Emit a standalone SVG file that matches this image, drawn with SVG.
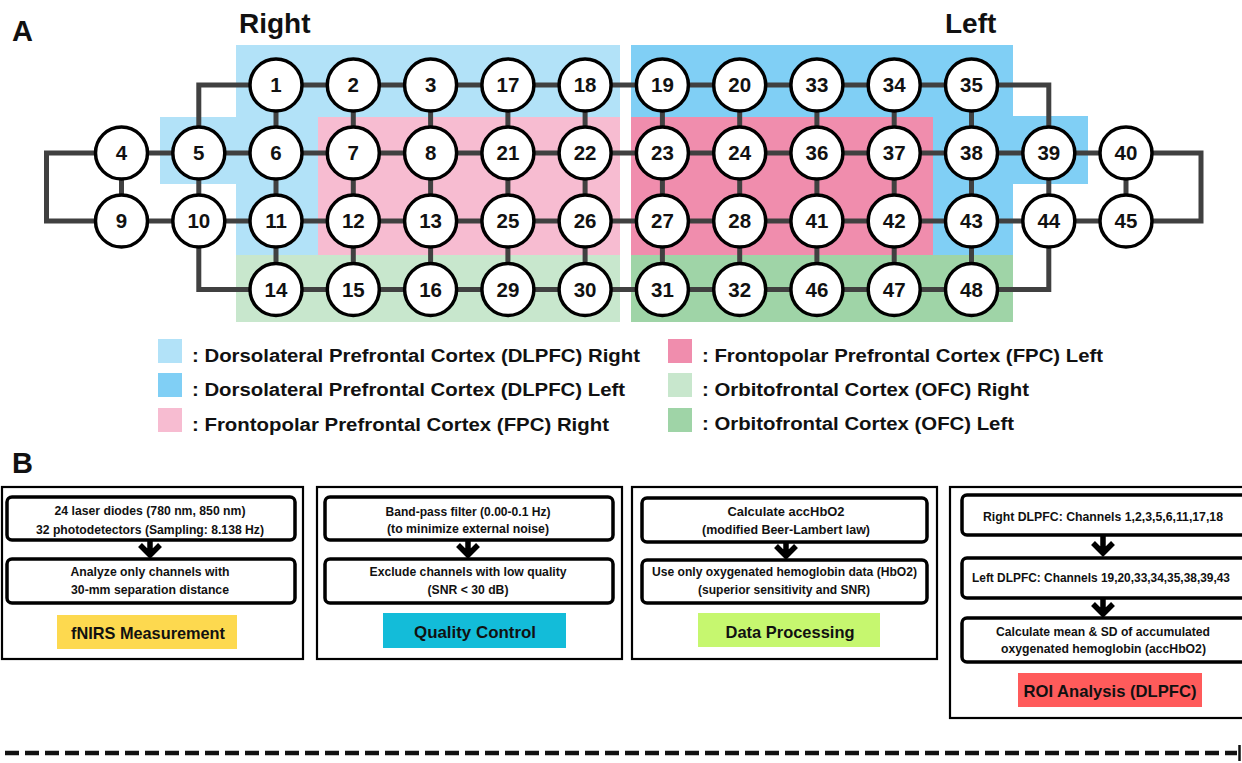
<svg xmlns="http://www.w3.org/2000/svg" width="1242" height="763" viewBox="0 0 1242 763">
<style>
.bg{fill:#ffffff}
.lb{fill:#b2e2f8}.db{fill:#80cff5}.lp{fill:#f7bcd1}.dp{fill:#f08dad}.lg{fill:#c8e7cd}.dg{fill:#9fd4a7}
.con{fill:none;stroke:#404040;stroke-width:5;stroke-linejoin:miter}
.nd circle{fill:#fff;stroke:#000;stroke-width:3.5}
.nd text{font-family:"Liberation Sans",Arial,sans-serif;font-weight:bold;font-size:20.5px;text-anchor:middle;fill:#111}
.ttl{font-family:"Liberation Sans",Arial,sans-serif;font-weight:bold;fill:#111}
.leg{font-family:"Liberation Sans",Arial,sans-serif;font-weight:bold;font-size:18px;fill:#111}
.outer{fill:#fff;stroke:#000;stroke-width:2.2}
.inner{fill:#fff;stroke:#000;stroke-width:3.5}
.t{font-family:"Liberation Sans",Arial,sans-serif;font-weight:bold;font-size:12.8px;text-anchor:middle;fill:#111}
.lab{font-family:"Liberation Sans",Arial,sans-serif;font-weight:bold;font-size:17px;text-anchor:middle;fill:#111}
.arr{fill:none;stroke:#000;stroke-width:5.5}
</style>
<rect class="bg" x="0" y="0" width="1242" height="763"/>

<g id="regions">
<polygon class="lb" points="236,45 620,45 620,117 318,117 318,255 236,255 236,184 160,184 160,117 236,117"/>
<rect class="lp" x="318" y="117" width="302" height="138"/>
<rect class="lg" x="236" y="255" width="384" height="67"/>
<polygon class="db" points="631,45 1013,45 1013,116 1088,116 1088,184 1013,184 1013,255 933,255 933,117 631,117"/>
<rect class="dp" x="631" y="117" width="302" height="138"/>
<rect class="dg" x="631" y="255" width="382" height="67"/>
</g>

<text class="ttl" x="12" y="41" font-size="29">A</text>
<text class="ttl" x="239" y="33" font-size="28">Right</text>
<text class="ttl" x="945" y="33" font-size="28">Left</text>

<g id="connectors">
<path class="con" d="M198.8,153 V85 H1048.8 V153"/>
<path class="con" d="M121.5,153 H46.5 V221 H121.5"/>
<path class="con" d="M1126,153 H1201 V221 H1126"/>
<path class="con" d="M121.5,153 H1126"/>
<path class="con" d="M121.5,221 H1126"/>
<path class="con" d="M198.8,221 V289.5 H1048.8 V221"/>
<path class="con" d="M121.5,153 V221 M198.8,153 V221 M1048.8,153 V221 M1126,153 V221"/>
<path class="con" d="M276,85 V289.5 M353.3,85 V289.5 M430.6,85 V289.5 M507.9,85 V289.5 M585.1,85 V289.5 M662.4,85 V289.5 M739.7,85 V289.5 M816.9,85 V289.5 M894.2,85 V289.5 M971.5,85 V289.5"/>
</g>

<g id="nodes">
<g id="n1" class="nd"><circle cx="276" cy="85" r="26"/><text x="276" y="92">1</text></g>
<g id="n2" class="nd"><circle cx="353.3" cy="85" r="26"/><text x="353.3" y="92">2</text></g>
<g id="n3" class="nd"><circle cx="430.6" cy="85" r="26"/><text x="430.6" y="92">3</text></g>
<g id="n17" class="nd"><circle cx="507.9" cy="85" r="26"/><text x="507.9" y="92">17</text></g>
<g id="n18" class="nd"><circle cx="585.1" cy="85" r="26"/><text x="585.1" y="92">18</text></g>
<g id="n19" class="nd"><circle cx="662.4" cy="85" r="26"/><text x="662.4" y="92">19</text></g>
<g id="n20" class="nd"><circle cx="739.7" cy="85" r="26"/><text x="739.7" y="92">20</text></g>
<g id="n33" class="nd"><circle cx="816.9" cy="85" r="26"/><text x="816.9" y="92">33</text></g>
<g id="n34" class="nd"><circle cx="894.2" cy="85" r="26"/><text x="894.2" y="92">34</text></g>
<g id="n35" class="nd"><circle cx="971.5" cy="85" r="26"/><text x="971.5" y="92">35</text></g>

<g id="n4" class="nd"><circle cx="121.5" cy="153" r="26"/><text x="121.5" y="160">4</text></g>
<g id="n5" class="nd"><circle cx="198.8" cy="153" r="26"/><text x="198.8" y="160">5</text></g>
<g id="n6" class="nd"><circle cx="276" cy="153" r="26"/><text x="276" y="160">6</text></g>
<g id="n7" class="nd"><circle cx="353.3" cy="153" r="26"/><text x="353.3" y="160">7</text></g>
<g id="n8" class="nd"><circle cx="430.6" cy="153" r="26"/><text x="430.6" y="160">8</text></g>
<g id="n21" class="nd"><circle cx="507.9" cy="153" r="26"/><text x="507.9" y="160">21</text></g>
<g id="n22" class="nd"><circle cx="585.1" cy="153" r="26"/><text x="585.1" y="160">22</text></g>
<g id="n23" class="nd"><circle cx="662.4" cy="153" r="26"/><text x="662.4" y="160">23</text></g>
<g id="n24" class="nd"><circle cx="739.7" cy="153" r="26"/><text x="739.7" y="160">24</text></g>
<g id="n36" class="nd"><circle cx="816.9" cy="153" r="26"/><text x="816.9" y="160">36</text></g>
<g id="n37" class="nd"><circle cx="894.2" cy="153" r="26"/><text x="894.2" y="160">37</text></g>
<g id="n38" class="nd"><circle cx="971.5" cy="153" r="26"/><text x="971.5" y="160">38</text></g>
<g id="n39" class="nd"><circle cx="1048.8" cy="153" r="26"/><text x="1048.8" y="160">39</text></g>
<g id="n40" class="nd"><circle cx="1126" cy="153" r="26"/><text x="1126" y="160">40</text></g>

<g id="n9" class="nd"><circle cx="121.5" cy="221" r="26"/><text x="121.5" y="228">9</text></g>
<g id="n10" class="nd"><circle cx="198.8" cy="221" r="26"/><text x="198.8" y="228">10</text></g>
<g id="n11" class="nd"><circle cx="276" cy="221" r="26"/><text x="276" y="228">11</text></g>
<g id="n12" class="nd"><circle cx="353.3" cy="221" r="26"/><text x="353.3" y="228">12</text></g>
<g id="n13" class="nd"><circle cx="430.6" cy="221" r="26"/><text x="430.6" y="228">13</text></g>
<g id="n25" class="nd"><circle cx="507.9" cy="221" r="26"/><text x="507.9" y="228">25</text></g>
<g id="n26" class="nd"><circle cx="585.1" cy="221" r="26"/><text x="585.1" y="228">26</text></g>
<g id="n27" class="nd"><circle cx="662.4" cy="221" r="26"/><text x="662.4" y="228">27</text></g>
<g id="n28" class="nd"><circle cx="739.7" cy="221" r="26"/><text x="739.7" y="228">28</text></g>
<g id="n41" class="nd"><circle cx="816.9" cy="221" r="26"/><text x="816.9" y="228">41</text></g>
<g id="n42" class="nd"><circle cx="894.2" cy="221" r="26"/><text x="894.2" y="228">42</text></g>
<g id="n43" class="nd"><circle cx="971.5" cy="221" r="26"/><text x="971.5" y="228">43</text></g>
<g id="n44" class="nd"><circle cx="1048.8" cy="221" r="26"/><text x="1048.8" y="228">44</text></g>
<g id="n45" class="nd"><circle cx="1126" cy="221" r="26"/><text x="1126" y="228">45</text></g>

<g id="n14" class="nd"><circle cx="276" cy="289.5" r="26"/><text x="276" y="296.5">14</text></g>
<g id="n15" class="nd"><circle cx="353.3" cy="289.5" r="26"/><text x="353.3" y="296.5">15</text></g>
<g id="n16" class="nd"><circle cx="430.6" cy="289.5" r="26"/><text x="430.6" y="296.5">16</text></g>
<g id="n29" class="nd"><circle cx="507.9" cy="289.5" r="26"/><text x="507.9" y="296.5">29</text></g>
<g id="n30" class="nd"><circle cx="585.1" cy="289.5" r="26"/><text x="585.1" y="296.5">30</text></g>
<g id="n31" class="nd"><circle cx="662.4" cy="289.5" r="26"/><text x="662.4" y="296.5">31</text></g>
<g id="n32" class="nd"><circle cx="739.7" cy="289.5" r="26"/><text x="739.7" y="296.5">32</text></g>
<g id="n46" class="nd"><circle cx="816.9" cy="289.5" r="26"/><text x="816.9" y="296.5">46</text></g>
<g id="n47" class="nd"><circle cx="894.2" cy="289.5" r="26"/><text x="894.2" y="296.5">47</text></g>
<g id="n48" class="nd"><circle cx="971.5" cy="289.5" r="26"/><text x="971.5" y="296.5">48</text></g>
</g>

<g id="legend">
<rect class="lb" x="158" y="339" width="24" height="24"/>
<text class="leg" x="192" y="362" textLength="448" lengthAdjust="spacingAndGlyphs">: Dorsolateral Prefrontal Cortex (DLPFC) Right</text>
<rect class="db" x="158" y="373" width="24" height="24"/>
<text class="leg" x="192" y="396" textLength="433" lengthAdjust="spacingAndGlyphs">: Dorsolateral Prefrontal Cortex (DLPFC) Left</text>
<rect class="lp" x="158" y="408" width="24" height="24"/>
<text class="leg" x="192" y="431" textLength="417" lengthAdjust="spacingAndGlyphs">: Frontopolar Prefrontal Cortex (FPC) Right</text>
<rect class="dp" x="668" y="339" width="24" height="24"/>
<text class="leg" x="702" y="362" textLength="401" lengthAdjust="spacingAndGlyphs">: Frontopolar Prefrontal Cortex (FPC) Left</text>
<rect class="lg" x="668" y="373" width="24" height="24"/>
<text class="leg" x="702" y="396" textLength="327" lengthAdjust="spacingAndGlyphs">: Orbitofrontal Cortex (OFC) Right</text>
<rect class="dg" x="668" y="408" width="24" height="24"/>
<text class="leg" x="702" y="430" textLength="312" lengthAdjust="spacingAndGlyphs">: Orbitofrontal Cortex (OFC) Left</text>
</g>

<text class="ttl" x="12" y="473" font-size="29">B</text>

<g id="panel1">
<rect class="outer" x="2" y="487" width="301" height="172"/>
<rect class="inner" x="7" y="497" width="288" height="43" rx="5"/>
<text class="t" x="150" y="515" textLength="191" lengthAdjust="spacingAndGlyphs">24 laser diodes (780 nm, 850 nm)</text>
<text class="t" x="150" y="534" textLength="228" lengthAdjust="spacingAndGlyphs">32 photodetectors (Sampling: 8.138 Hz)</text>
<path class="arr" d="M150,540 V555 M140,545 L150,555 L160,545"/>
<rect class="inner" x="7" y="559" width="288" height="44" rx="5"/>
<text class="t" x="150" y="576" textLength="159" lengthAdjust="spacingAndGlyphs">Analyze only channels with</text>
<text class="t" x="150" y="594" textLength="158" lengthAdjust="spacingAndGlyphs">30-mm separation distance</text>
<rect x="57" y="615" width="180" height="34" fill="#fdd94f"/>
<text class="lab" x="148" y="639" textLength="154" lengthAdjust="spacingAndGlyphs">fNIRS Measurement</text>
</g>

<g id="panel2">
<rect class="outer" x="317" y="487" width="305" height="172"/>
<rect class="inner" x="325" y="497" width="288" height="43" rx="5"/>
<text class="t" x="468" y="516" textLength="165" lengthAdjust="spacingAndGlyphs">Band-pass filter (0.00-0.1 Hz)</text>
<text class="t" x="468" y="533" textLength="162" lengthAdjust="spacingAndGlyphs">(to minimize external noise)</text>
<path class="arr" d="M468,540 V555 M458,545 L468,555 L478,545"/>
<rect class="inner" x="325" y="559" width="288" height="44" rx="5"/>
<text class="t" x="468" y="576" textLength="197" lengthAdjust="spacingAndGlyphs">Exclude channels with low quality</text>
<text class="t" x="468" y="594" textLength="81" lengthAdjust="spacingAndGlyphs">(SNR &lt; 30 dB)</text>
<rect x="383" y="613" width="183" height="35" fill="#13bcd9"/>
<text class="lab" x="475" y="638" textLength="122" lengthAdjust="spacingAndGlyphs">Quality Control</text>
</g>

<g id="panel3">
<rect class="outer" x="632" y="487" width="305" height="172"/>
<rect class="inner" x="642" y="498" width="285" height="44" rx="5"/>
<text class="t" x="786" y="516" textLength="117" lengthAdjust="spacingAndGlyphs">Calculate accHbO2</text>
<text class="t" x="786" y="534" textLength="168" lengthAdjust="spacingAndGlyphs">(modified Beer-Lambert law)</text>
<path class="arr" d="M786,542 V556 M776,546 L786,556 L796,546"/>
<rect class="inner" x="642" y="560" width="285" height="43" rx="5"/>
<text class="t" x="784.5" y="576" textLength="265" lengthAdjust="spacingAndGlyphs">Use only oxygenated hemoglobin data (HbO2)</text>
<text class="t" x="784" y="594" textLength="172" lengthAdjust="spacingAndGlyphs">(superior sensitivity and SNR)</text>
<rect x="698" y="613" width="182" height="34" fill="#c6f76f"/>
<text class="lab" x="790" y="638" textLength="129" lengthAdjust="spacingAndGlyphs">Data Processing</text>
</g>

<g id="panel4">
<rect class="outer" x="950" y="487" width="300" height="231"/>
<rect class="inner" x="962" y="495" width="290" height="40" rx="5"/>
<text class="t" x="1103" y="521" textLength="240" lengthAdjust="spacingAndGlyphs">Right DLPFC: Channels 1,2,3,5,6,11,17,18</text>
<path class="arr" d="M1103,535 V553 M1093,543 L1103,553 L1113,543"/>
<rect class="inner" x="962" y="558" width="290" height="40" rx="5"/>
<text class="t" x="1101" y="582" textLength="258" lengthAdjust="spacingAndGlyphs">Left DLPFC: Channels 19,20,33,34,35,38,39,43</text>
<path class="arr" d="M1103,598 V614 M1093,604 L1103,614 L1113,604"/>
<rect class="inner" x="962" y="618" width="290" height="44" rx="5"/>
<text class="t" x="1103" y="636" textLength="214" lengthAdjust="spacingAndGlyphs">Calculate mean &amp; SD of accumulated</text>
<text class="t" x="1103.5" y="653" textLength="205" lengthAdjust="spacingAndGlyphs">oxygenated hemoglobin (accHbO2)</text>
<rect x="1018" y="673" width="184" height="34" fill="#ff5b5b"/>
<text class="lab" x="1110" y="697" textLength="173" lengthAdjust="spacingAndGlyphs">ROI Analysis (DLPFC)</text>
</g>

<g id="timeline">
<line x1="5" y1="753" x2="1237" y2="753" stroke="#111" stroke-width="4.5" stroke-dasharray="14 6"/>
<line x1="1239.5" y1="745" x2="1239.5" y2="761" stroke="#111" stroke-width="2.5"/>
</g>
</svg>
